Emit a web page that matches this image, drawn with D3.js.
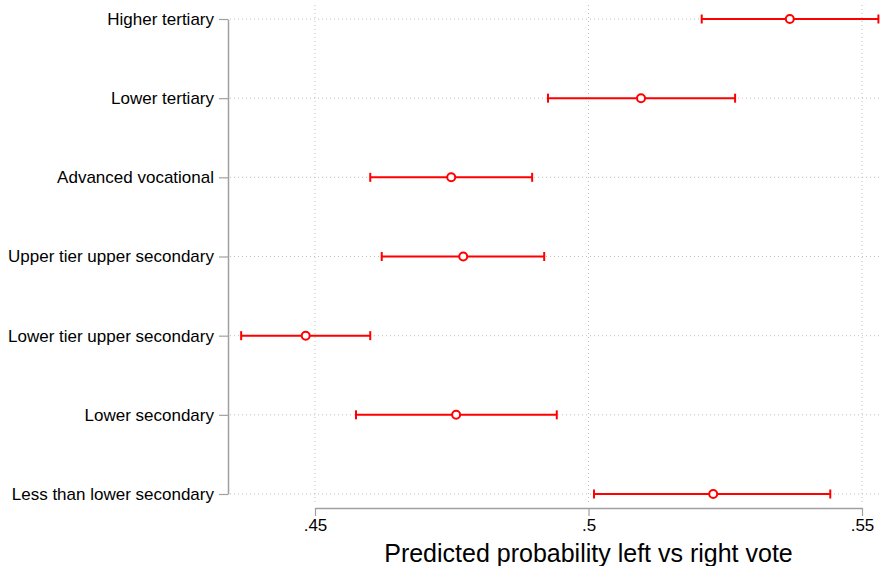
<!DOCTYPE html>
<html>
<head>
<meta charset="utf-8">
<script src="https://d3js.org/d3.v7.min.js"></script>
<style>
  body { margin: 0; background: #fff; }
  svg text { font-family: "Liberation Sans", Arial, Helvetica, sans-serif; fill: #000; }
</style>
</head>
<body>
<svg id="chart" width="882" height="566"></svg>
<script>
// categories top to bottom
var categories = ["Higher tertiary", "Lower tertiary", "Advanced vocational",
  "Upper tier upper secondary", "Lower tier upper secondary", "Lower secondary",
  "Less than lower secondary"];
var estimate = [0.5368, 0.5096, 0.4749, 0.4771, 0.4483, 0.4758, 0.5228];
var lower    = [0.5207, 0.4926, 0.4601, 0.4622, 0.4365, 0.4575, 0.5010];
var upper    = [0.5530, 0.5268, 0.4897, 0.4919, 0.4601, 0.4942, 0.5442];
var xTicks = [0.45, 0.5, 0.55];
var xTickLabels = [".45", ".5", ".55"];

var svg = d3.select("#chart");
var x = d3.scaleLinear().domain([0.45, 0.55]).range([315, 862]);
var y = d3.scalePoint().domain(categories).range([19, 494]);

// grid
var grid = svg.append("g");
grid.selectAll("line.v").data(xTicks).enter().append("line")
  .attr("x1", d => x(d)).attr("x2", d => x(d))
  .attr("y1", 5).attr("y2", 503)
  .attr("stroke", "#c0c0c0").attr("stroke-width", 1).attr("stroke-dasharray", "1,3");
grid.selectAll("line.h").data(categories).enter().append("line")
  .attr("x1", 230).attr("x2", 882)
  .attr("y1", d => y(d)).attr("y2", d => y(d))
  .attr("stroke", "#c0c0c0").attr("stroke-width", 1).attr("stroke-dasharray", "1,3");

// y axis
var yAxis = svg.append("g")
  .attr("transform", "translate(228,0)")
  .call(d3.axisLeft(y).tickSize(9).tickSizeOuter(0).tickPadding(5));
yAxis.select(".domain").attr("stroke", "#a0a0a0").attr("stroke-width", 1.5);
yAxis.selectAll(".tick line").attr("stroke", "#a0a0a0").attr("stroke-width", 1.2);
yAxis.selectAll(".tick text").style("font-size", "17px");

// x axis
var xAxis = svg.append("g")
  .attr("transform", "translate(0,508)")
  .call(d3.axisBottom(x).tickValues(xTicks).tickFormat((d, i) => xTickLabels[i])
    .tickSize(8).tickSizeOuter(0).tickPadding(3));
xAxis.select(".domain").attr("stroke", "#a0a0a0").attr("stroke-width", 1.5);
xAxis.selectAll(".tick line").attr("stroke", "#a0a0a0").attr("stroke-width", 1.2);
xAxis.selectAll(".tick text").style("font-size", "17px");

svg.append("text")
  .attr("x", (x(0.45) + x(0.55)) / 2).attr("y", 562)
  .attr("text-anchor", "middle")
  .style("font-size", "25px")
  .text("Predicted probability left vs right vote");

// error bars
var bars = svg.append("g");
bars.selectAll("line.ci").data(categories).enter().append("line")
  .attr("x1", (d, i) => x(lower[i])).attr("x2", (d, i) => x(upper[i]))
  .attr("y1", d => y(d)).attr("y2", d => y(d))
  .attr("stroke", "#ff0000").attr("stroke-width", 2);
bars.selectAll("line.lo").data(categories).enter().append("line")
  .attr("x1", (d, i) => x(lower[i])).attr("x2", (d, i) => x(lower[i]))
  .attr("y1", d => y(d) - 4.5).attr("y2", d => y(d) + 4.5)
  .attr("stroke", "#ff0000").attr("stroke-width", 2);
bars.selectAll("line.hi").data(categories).enter().append("line")
  .attr("x1", (d, i) => x(upper[i])).attr("x2", (d, i) => x(upper[i]))
  .attr("y1", d => y(d) - 4.5).attr("y2", d => y(d) + 4.5)
  .attr("stroke", "#ff0000").attr("stroke-width", 2);
bars.selectAll("circle").data(categories).enter().append("circle")
  .attr("cx", (d, i) => x(estimate[i])).attr("cy", d => y(d))
  .attr("r", 4)
  .attr("fill", "#fff").attr("stroke", "#ff0000").attr("stroke-width", 2);
</script>
</body>
</html>
